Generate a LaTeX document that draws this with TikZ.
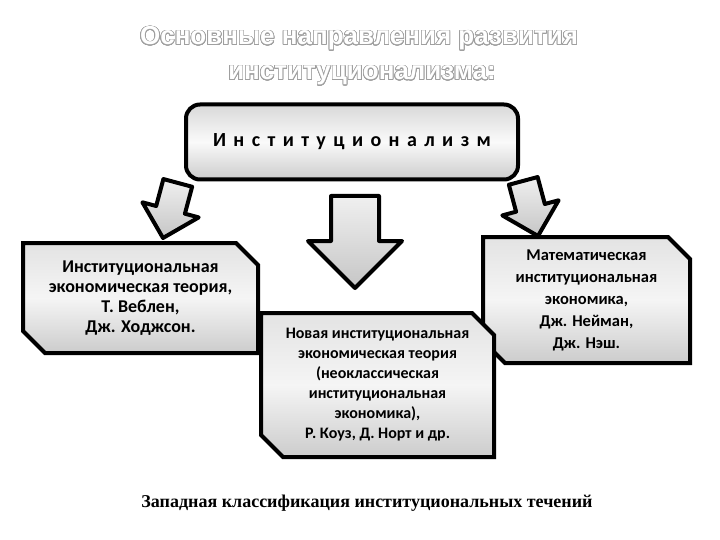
\documentclass[tikz,border=0pt]{standalone}
\usepackage{fontspec}
\setmainfont{Carlito}
\newfontfamily\titlefont{Liberation Sans}
\newfontfamily\captionfont{Liberation Serif}
\newfontfamily\spacedfont[LetterSpace=37]{Carlito}
\usepackage{contour}
\contourlength{0.7pt}
\contournumber{24}
\usetikzlibrary{positioning,shapes.misc}
\tikzstyle{titleText}=[text=white, anchor=base, font=\titlefont\bfseries\fontsize{26}{30}\selectfont]
\tikzstyle{instBox}=[draw, line width=4pt, rounded corners=14pt, top color=gray!30, bottom color=gray!40, middle color=gray!4]
\tikzstyle{branchBox}=[chamfered rectangle, chamfered rectangle corners={north east,south west}, chamfered rectangle xsep=11pt, chamfered rectangle ysep=11pt, draw, line width=4pt, align=center, inner sep=0pt, top color=gray!22, bottom color=gray!40, middle color=gray!8]
\tikzstyle{arrowShape}=[draw, line width=4pt, line join=round, top color=gray!12, bottom color=gray!45]
\newcommand{\blockArrow}[3]{
  \draw[arrowShape, shift={#1}, rotate=#2, scale=#3]
    (0,0) -- (-47,-47) -- (-24,-47) -- (-24,-92) -- (24,-92) -- (24,-47) -- (47,-47) -- cycle;
}

\begin{document}
\begin{tikzpicture}[x=1pt, y=-1pt]
        \useasboundingbox[fill=white] (0,0) rectangle (720,540);
        \node[titleText] (title1) at (359,45) {\contour{gray!75}{Основные направления развития}};
        \node[titleText] (title2) at (362,80) {\contour{gray!75}{институционализма:}};
        \node[instBox, minimum width=332, minimum height=75] (inst) at (352,142)
          {\spacedfont\bfseries\fontsize{20}{24}\selectfont Институционализм};
        \blockArrow{(163,238)}{-15}{0.62}
        \blockArrow{(355,288)}{0}{1}
        \blockArrow{(538,236)}{15}{0.62}
        \node[branchBox, minimum width=207, minimum height=126, font=\bfseries\fontsize{16.5}{22}\selectfont] (math) at (586.5,300)
          {Математическая\\институциональная\\экономика,\\Дж. Нейман,\\Дж. Нэш.};
        \node[branchBox, minimum width=235, minimum height=110, font=\bfseries\fontsize{18}{20}\selectfont] (old) at (140.5,298)
          {Институциональная\\экономическая теория,\\Т. Веблен,\\Дж. Ходжсон.};
        \node[branchBox, minimum width=233, minimum height=144, font=\bfseries\fontsize{16}{20}\selectfont] (new) at (377.5,385)
          {Новая институциональная\\экономическая теория\\(неоклассическая\\институциональная\\экономика),\\Р. Коуз, Д. Норт и др.};
        \node[font=\captionfont\bfseries\fontsize{18}{22}\selectfont] (caption) at (367,503)
          {Западная классификация институциональных течений};
\end{tikzpicture}
\end{document}
